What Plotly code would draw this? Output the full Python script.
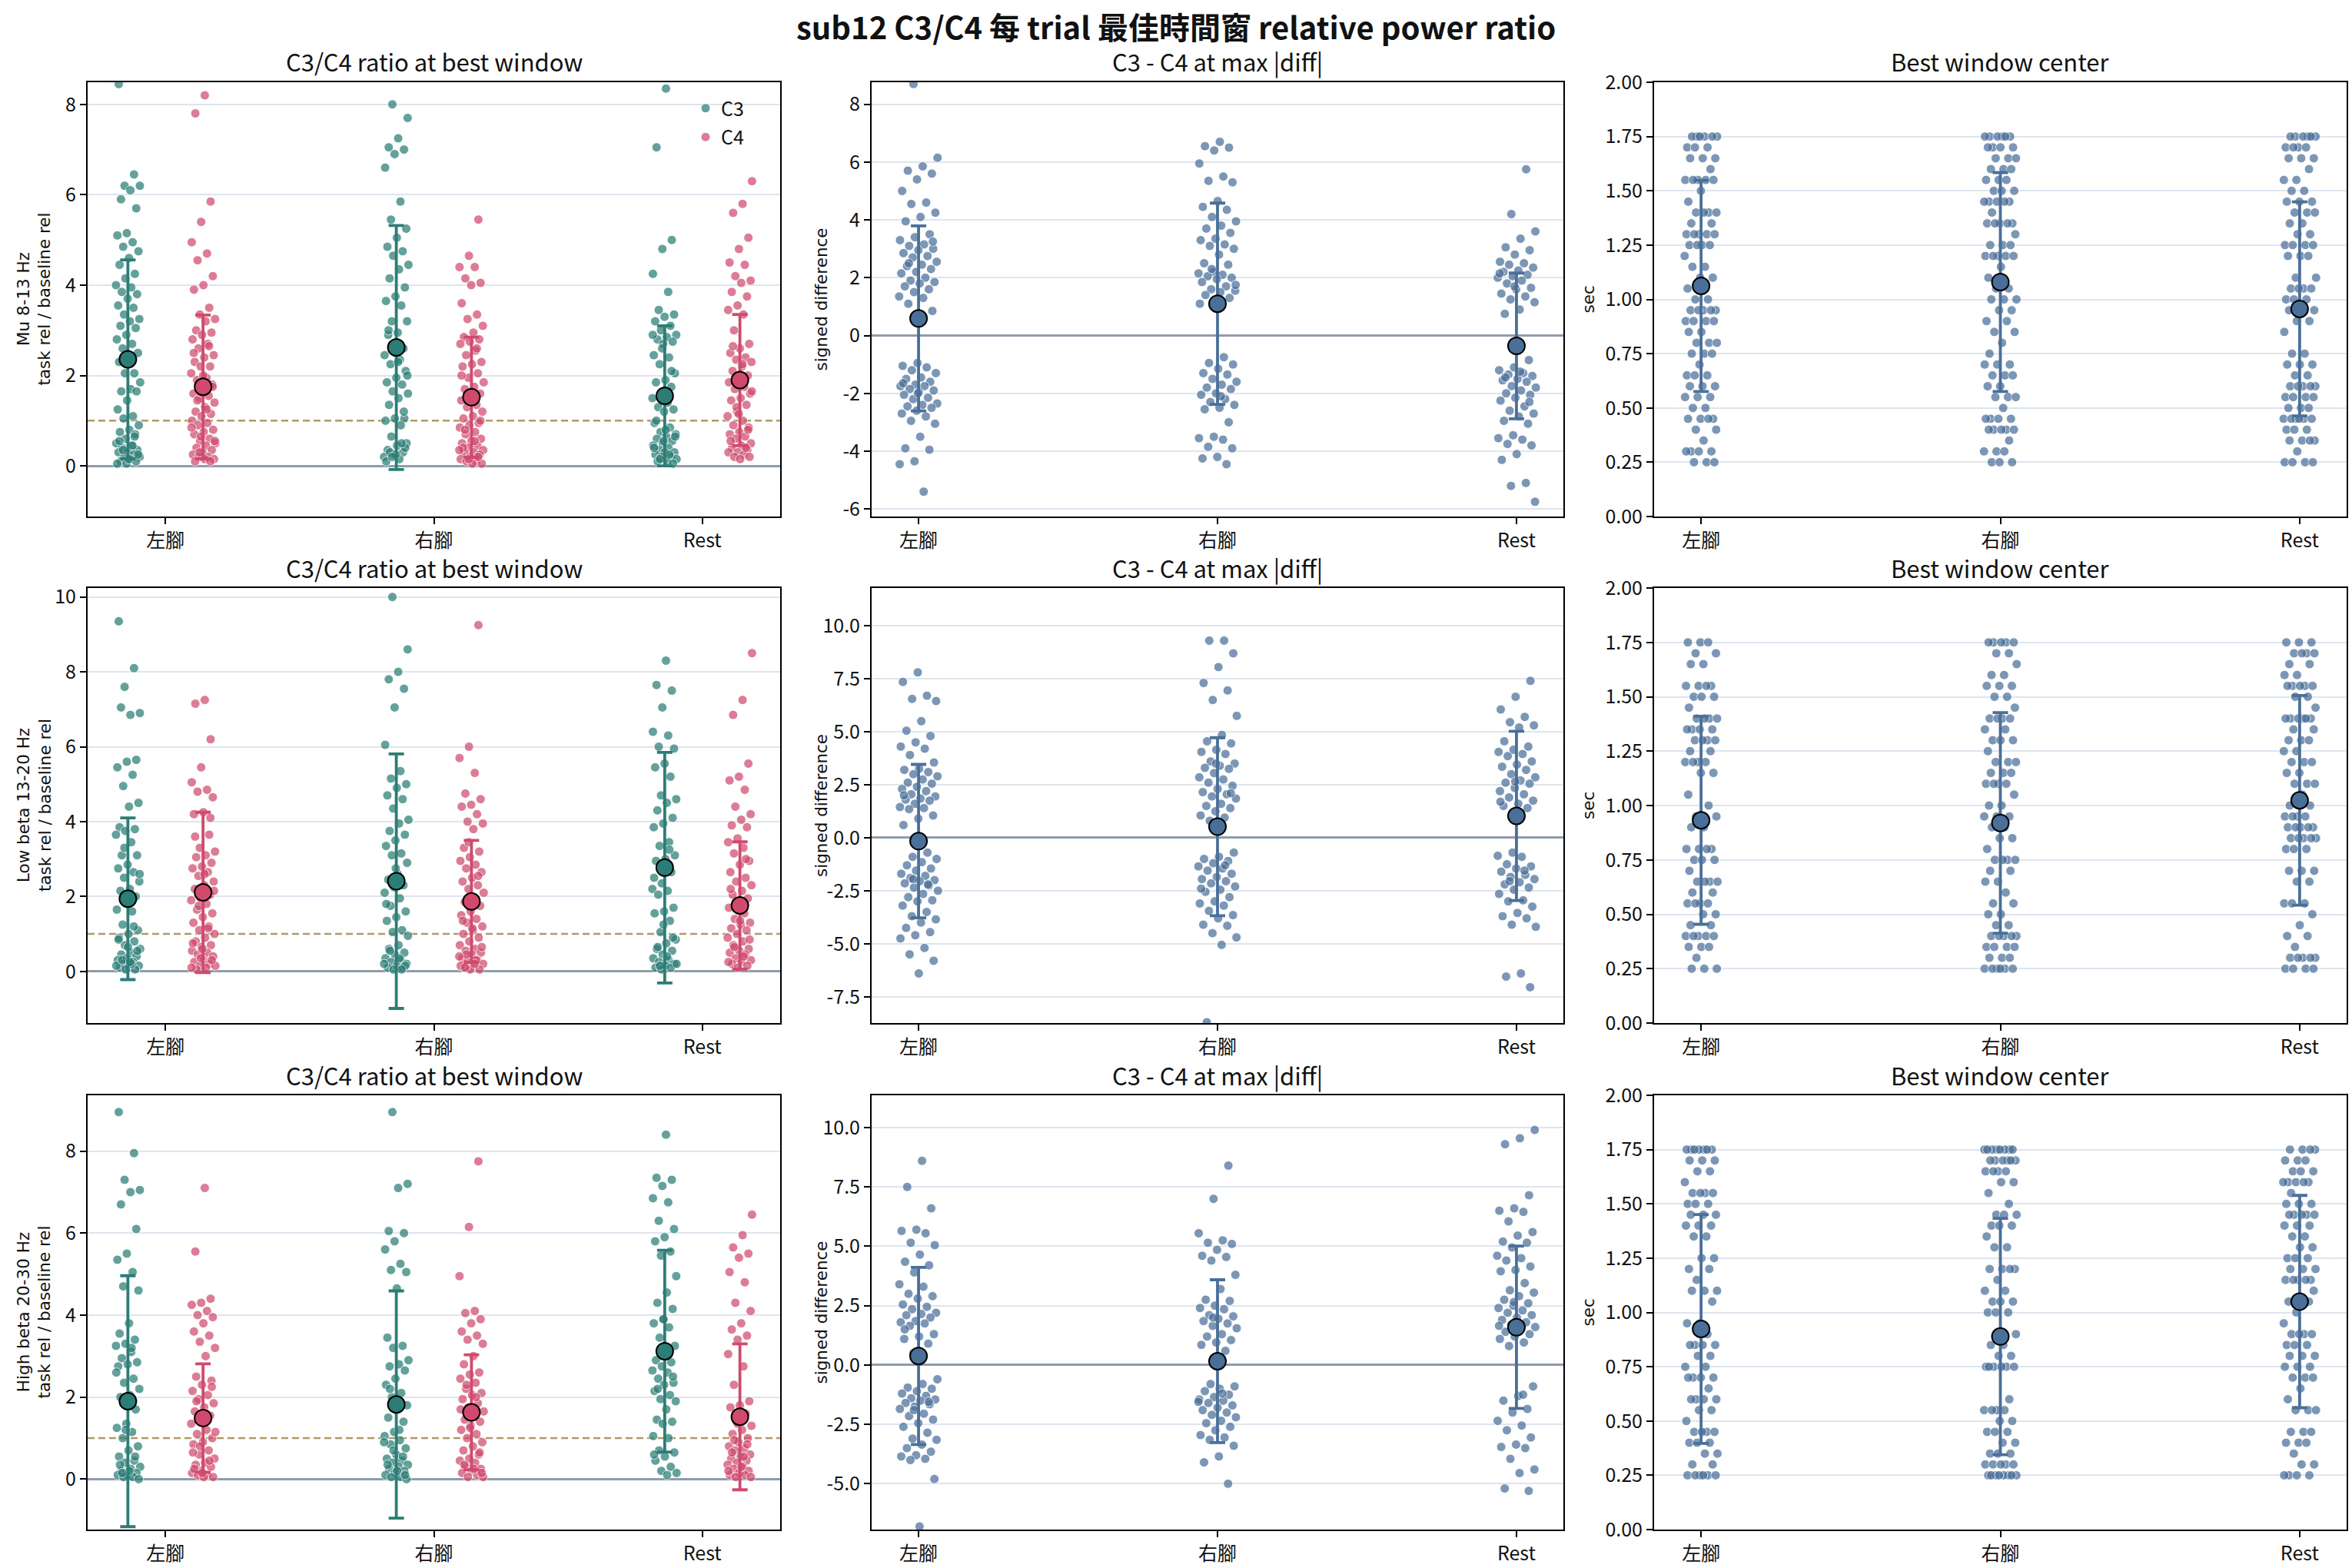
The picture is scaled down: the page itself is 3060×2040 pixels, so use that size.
import plotly.graph_objects as go

# ---------------- data ----------------
conditions = ["左腳", "右腳", "Rest"]
band_labels = ["Mu 8-13 Hz<br>task rel / baseline rel",
               "Low beta 13-20 Hz<br>task rel / baseline rel",
               "High beta 20-30 Hz<br>task rel / baseline rel"]
panel_titles = ["C3/C4 ratio at best window", "C3 - C4 at max |diff|", "Best window center"]

# ---- Mu 8-13 Hz : ratio per trial ----
mu_c3_left = [8.45, 6.45, 6.2, 6.2, 6.1, 5.9, 5.7, 5.15, 5.1, 4.95, 4.85, 4.75, 4.6, 4.45, 4.25, 4.15, 4.0, 3.95, 3.85, 3.8, 3.7, 3.55, 3.5, 3.35, 3.25, 3.2, 3.1, 3.05, 2.9, 2.8, 2.7, 2.6, 2.5, 2.35, 2.3, 2.05, 2.05, 1.85, 1.7, 1.65, 1.65, 1.45, 1.25, 1.1, 1.05, 0.9, 0.8, 0.75, 0.7, 0.6, 0.5, 0.45, 0.4, 0.35, 0.3, 0.3, 0.25, 0.2, 0.2, 0.15, 0.1, 0.1, 0.05, 0.05, 0.45, 0.35, 0.25, 0.15, 0.55, 0.65]
mu_c4_left = [8.2, 7.8, 5.85, 5.4, 4.95, 4.7, 4.55, 4.2, 4.0, 3.9, 3.5, 3.35, 3.25, 3.2, 3.0, 2.95, 2.9, 2.8, 2.7, 2.6, 2.45, 2.4, 2.3, 2.2, 2.2, 2.05, 1.95, 1.9, 1.8, 1.7, 1.6, 1.55, 1.5, 1.4, 1.3, 1.2, 1.15, 1.1, 1.0, 0.95, 0.9, 0.8, 0.75, 0.7, 0.6, 0.55, 0.5, 0.45, 0.4, 0.35, 0.3, 0.25, 0.2, 0.2, 0.15, 0.15, 0.1, 0.1, 0.65, 0.85, 1.25, 1.45, 1.75, 2.0, 2.5, 2.65, 0.3, 0.55]
mu_c3_right = [8.0, 7.7, 7.25, 7.05, 7.0, 6.9, 6.6, 5.85, 5.45, 5.25, 5.05, 4.85, 4.75, 4.65, 4.45, 4.35, 4.15, 3.95, 3.75, 3.65, 3.55, 3.2, 3.2, 2.95, 2.9, 2.6, 2.55, 2.45, 2.35, 2.25, 2.1, 1.95, 1.85, 1.8, 1.65, 1.6, 1.5, 1.35, 1.05, 1.05, 1.0, 0.9, 0.65, 0.5, 0.45, 0.35, 0.3, 0.25, 0.2, 0.15, 0.3, 0.4, 0.25, 0.1, 0.5, 0.2, 2.0, 2.3, 3.0, 1.2]
mu_c4_right = [5.45, 4.65, 4.4, 4.4, 4.15, 4.05, 4.0, 3.6, 3.35, 3.25, 3.1, 2.95, 2.85, 2.8, 2.75, 2.7, 2.55, 2.45, 2.3, 2.25, 2.2, 2.05, 1.95, 1.85, 1.75, 1.7, 1.6, 1.5, 1.45, 1.35, 1.3, 1.2, 1.1, 1.05, 0.95, 0.9, 0.85, 0.75, 0.7, 0.6, 0.55, 0.5, 0.45, 0.4, 0.35, 0.3, 0.3, 0.25, 0.2, 0.15, 0.1, 0.1, 0.05, 0.05, 0.4, 0.2, 0.15, 0.35, 0.55, 0.8, 1.0, 1.4, 2.0, 2.6]
mu_c3_rest = [8.35, 7.05, 5.0, 4.8, 4.25, 3.85, 3.45, 3.35, 3.3, 3.2, 3.1, 3.0, 2.9, 2.85, 2.8, 2.75, 2.7, 2.45, 2.4, 2.25, 2.05, 1.9, 1.85, 1.75, 1.6, 1.5, 1.4, 1.3, 1.25, 1.2, 0.95, 0.85, 0.75, 0.7, 0.65, 0.6, 0.55, 0.5, 0.45, 0.4, 0.35, 0.3, 0.3, 0.25, 0.2, 0.2, 0.15, 0.1, 0.1, 0.05, 0.55, 0.4, 0.25, 0.15, 0.65, 0.8, 1.0, 2.1, 2.6, 2.9]
mu_c4_rest = [6.3, 5.8, 5.6, 5.05, 4.8, 4.5, 4.45, 4.2, 4.1, 4.05, 3.85, 3.75, 3.55, 3.45, 3.35, 3.0, 2.7, 2.6, 2.5, 2.4, 2.35, 2.3, 2.2, 2.1, 2.0, 1.9, 1.85, 1.75, 1.7, 1.6, 1.5, 1.45, 1.35, 1.2, 1.1, 1.0, 0.9, 0.85, 0.75, 0.7, 0.65, 0.6, 0.5, 0.45, 0.4, 0.35, 0.3, 0.3, 0.25, 0.2, 0.2, 0.15, 0.55, 0.4, 1.3, 1.65, 2.25, 2.65, 0.8, 1.15]
mu_c3_mean = [2.36, 2.62, 1.55]
mu_c3_sd = [2.20, 2.70, 1.55]
mu_c4_mean = [1.75, 1.52, 1.90]
mu_c4_sd = [1.59, 1.33, 1.45]

# ---- Mu 8-13 Hz : signed difference ----
mu_diff_left = [8.7, 6.15, 5.85, 5.7, 5.6, 5.4, 5.0, 4.6, 4.55, 4.25, 4.1, 3.95, 3.5, 3.4, 3.3, 3.15, 3.1, 3.0, 2.95, 2.85, 2.75, 2.7, 2.55, 2.45, 2.4, 2.3, 2.2, 2.15, 2.0, 1.9, 1.85, 1.8, 1.7, 1.6, 1.5, 1.35, 1.3, 1.1, 0.85, -0.95, -1.05, -1.1, -1.2, -1.3, -1.45, -1.5, -1.6, -1.7, -1.75, -1.75, -1.85, -1.9, -1.95, -2.05, -2.15, -2.2, -2.35, -2.4, -2.45, -2.5, -2.6, -2.7, -2.8, -2.95, -3.05, -3.5, -3.9, -3.95, -4.35, -4.45, -5.4, 2.5, 3.25, -2.0, -1.65]
mu_diff_right = [6.7, 6.55, 6.5, 6.4, 5.95, 5.5, 5.35, 5.3, 4.65, 4.45, 4.35, 4.1, 3.95, 3.8, 3.7, 3.55, 3.35, 3.3, 3.15, 3.1, 3.0, 2.8, 2.5, 2.45, 2.2, 2.15, 2.1, 2.05, 2.0, 1.95, 1.85, 1.7, 1.6, 1.55, 1.5, 1.4, 1.3, 1.2, 1.1, -0.75, -0.95, -1.0, -1.15, -1.3, -1.35, -1.5, -1.6, -1.7, -1.8, -1.85, -2.0, -2.05, -2.2, -2.3, -2.4, -2.5, -2.55, -3.0, -3.5, -3.55, -3.6, -3.85, -3.9, -4.2, -4.25, -4.45, 2.3, 1.75, -2.1]
mu_diff_rest = [5.75, 4.2, 3.6, 3.35, 3.05, 2.95, 2.8, 2.55, 2.5, 2.45, 2.35, 2.25, 2.2, 2.1, 2.05, 2.0, 1.9, 1.8, 1.65, 1.6, 1.45, 1.35, 1.25, 1.15, 0.9, 0.75, -0.85, -1.1, -1.2, -1.3, -1.35, -1.4, -1.5, -1.55, -1.6, -1.75, -1.8, -1.9, -2.0, -2.05, -2.15, -2.25, -2.45, -2.6, -2.7, -2.8, -2.95, -3.05, -3.45, -3.55, -3.6, -3.75, -3.8, -4.1, -4.3, -5.1, -5.2, -5.75, -1.25, -1.45, -2.3, 1.7, 2.15]
mu_diff_mean = [0.59, 1.10, -0.36]
mu_diff_sd = [3.20, 3.48, 2.52]

# ---- Mu 8-13 Hz : best window centre (s) ----
mu_win_left = [1.75, 1.75, 1.75, 1.75, 1.75, 1.75, 1.7, 1.7, 1.7, 1.65, 1.65, 1.65, 1.6, 1.55, 1.55, 1.55, 1.55, 1.55, 1.5, 1.45, 1.4, 1.4, 1.4, 1.4, 1.35, 1.35, 1.3, 1.3, 1.3, 1.3, 1.3, 1.25, 1.25, 1.25, 1.25, 1.2, 1.15, 1.15, 1.1, 1.1, 1.05, 1.0, 1.0, 0.95, 0.95, 0.95, 0.95, 0.95, 0.9, 0.9, 0.9, 0.9, 0.85, 0.85, 0.8, 0.8, 0.8, 0.75, 0.75, 0.75, 0.7, 0.65, 0.65, 0.65, 0.6, 0.6, 0.6, 0.55, 0.55, 0.55, 0.5, 0.5, 0.45, 0.45, 0.45, 0.45, 0.4, 0.4, 0.35, 0.3, 0.3, 0.3, 0.3, 0.25, 0.25, 0.25]
mu_win_right = [1.75, 1.75, 1.75, 1.75, 1.75, 1.75, 1.7, 1.7, 1.7, 1.7, 1.65, 1.65, 1.65, 1.6, 1.6, 1.6, 1.55, 1.55, 1.55, 1.5, 1.5, 1.5, 1.45, 1.45, 1.45, 1.45, 1.45, 1.4, 1.35, 1.35, 1.35, 1.35, 1.35, 1.3, 1.25, 1.25, 1.25, 1.2, 1.2, 1.2, 1.2, 1.2, 1.15, 1.1, 1.05, 1.05, 1.0, 1.0, 1.0, 0.95, 0.95, 0.9, 0.9, 0.85, 0.85, 0.8, 0.75, 0.7, 0.7, 0.7, 0.65, 0.65, 0.65, 0.6, 0.6, 0.55, 0.55, 0.55, 0.5, 0.45, 0.45, 0.45, 0.45, 0.4, 0.4, 0.4, 0.4, 0.4, 0.35, 0.3, 0.3, 0.3, 0.25, 0.25, 0.25]
mu_win_rest = [1.75, 1.75, 1.75, 1.75, 1.75, 1.75, 1.7, 1.7, 1.7, 1.7, 1.65, 1.65, 1.65, 1.6, 1.55, 1.55, 1.5, 1.5, 1.45, 1.45, 1.45, 1.4, 1.4, 1.4, 1.35, 1.35, 1.3, 1.3, 1.25, 1.25, 1.25, 1.25, 1.2, 1.2, 1.2, 1.1, 1.1, 1.05, 1.05, 1.05, 1.05, 1.0, 1.0, 1.0, 0.95, 0.95, 0.95, 0.9, 0.9, 0.85, 0.75, 0.75, 0.7, 0.7, 0.7, 0.65, 0.65, 0.6, 0.6, 0.6, 0.6, 0.6, 0.55, 0.55, 0.55, 0.55, 0.5, 0.5, 0.5, 0.45, 0.45, 0.45, 0.45, 0.45, 0.45, 0.4, 0.4, 0.4, 0.35, 0.35, 0.35, 0.35, 0.3, 0.25, 0.25, 0.25, 0.25]
mu_win_mean = [1.062, 1.080, 0.956]
mu_win_sd = [0.486, 0.504, 0.493]

# ---- Low beta 13-20 Hz : ratio ----
lb_c3_left = [9.35, 8.1, 7.6, 6.9, 6.85, 7.05, 5.65, 5.6, 5.45, 5.25, 4.95, 4.5, 4.4, 3.85, 3.8, 3.75, 3.65, 3.45, 3.1, 3.1, 2.85, 2.75, 2.65, 2.5, 2.4, 2.2, 2.15, 2.0, 1.9, 1.65, 1.6, 1.25, 1.1, 1.0, 0.9, 0.8, 0.7, 0.6, 0.5, 0.45, 0.4, 0.35, 0.3, 0.25, 0.2, 0.15, 0.1, 0.1, 0.05, 0.05, 0.15, 0.2, 0.3, 0.55, 0.65, 0.85, 1.2, 3.3, 2.6, 0.25]
lb_c4_left = [7.25, 7.15, 6.2, 5.45, 5.05, 4.85, 4.8, 4.65, 4.25, 4.2, 3.65, 3.3, 3.2, 3.1, 3.05, 2.9, 2.8, 2.75, 2.65, 2.55, 2.4, 2.3, 2.2, 2.05, 1.95, 1.9, 1.8, 1.65, 1.55, 1.45, 1.3, 1.2, 1.1, 1.0, 0.9, 0.8, 0.7, 0.65, 0.55, 0.5, 0.45, 0.4, 0.3, 0.25, 0.2, 0.15, 0.15, 0.1, 0.05, 0.3, 0.6, 0.75, 1.15, 1.75, 2.15, 2.6, 3.6, 4.1, 0.35, 0.1]
lb_c3_right = [10.0, 8.6, 8.0, 7.8, 7.55, 7.05, 6.05, 5.35, 5.15, 5.0, 4.9, 4.7, 4.6, 4.35, 4.05, 3.95, 3.75, 3.65, 3.5, 3.35, 3.15, 3.1, 2.9, 2.6, 2.45, 2.3, 2.25, 2.1, 1.95, 1.75, 1.6, 1.45, 1.35, 1.1, 1.05, 0.95, 0.7, 0.6, 0.5, 0.45, 0.35, 0.3, 0.25, 0.2, 0.15, 0.1, 0.1, 0.05, 0.2, 0.35, 0.55, 0.15, 2.75, 1.8, 0.05]
lb_c4_right = [9.25, 6.0, 5.7, 5.3, 4.75, 4.6, 4.45, 4.4, 4.2, 4.0, 3.95, 3.8, 3.3, 3.2, 3.05, 2.95, 2.85, 2.75, 2.65, 2.5, 2.4, 2.3, 2.2, 2.1, 1.95, 1.85, 1.75, 1.6, 1.5, 1.4, 1.3, 1.2, 1.1, 1.0, 0.9, 0.8, 0.7, 0.6, 0.55, 0.5, 0.45, 0.35, 0.3, 0.25, 0.2, 0.15, 0.1, 0.05, 0.05, 0.15, 0.3, 0.45, 0.65, 1.15, 1.35, 2.55, 3.45, 0.4, 0.2, 0.1]
lb_c3_rest = [8.3, 7.65, 7.5, 7.05, 6.4, 6.3, 6.0, 5.95, 5.55, 5.45, 5.2, 4.7, 4.6, 4.5, 4.3, 4.1, 3.95, 3.85, 3.45, 3.35, 3.1, 3.0, 2.95, 2.65, 2.35, 2.2, 2.15, 2.05, 1.7, 1.6, 1.55, 1.35, 1.05, 0.85, 0.75, 0.6, 0.55, 0.45, 0.35, 0.3, 0.25, 0.2, 0.15, 0.1, 0.1, 0.05, 0.2, 0.4, 0.65, 0.9, 1.25, 2.5, 3.25, 0.15]
lb_c4_rest = [8.5, 7.25, 6.85, 5.55, 5.2, 5.1, 4.85, 4.4, 4.2, 4.05, 3.9, 3.85, 3.55, 3.45, 3.3, 3.15, 2.95, 2.85, 2.65, 2.5, 2.4, 2.3, 2.15, 2.05, 1.95, 1.85, 1.7, 1.55, 1.4, 1.3, 1.25, 1.15, 1.1, 1.0, 0.9, 0.8, 0.7, 0.6, 0.55, 0.5, 0.45, 0.35, 0.3, 0.25, 0.2, 0.15, 0.1, 0.25, 0.4, 0.65, 0.85, 1.35, 2.2, 3.0]
lb_c3_mean = [1.94, 2.41, 2.77]
lb_c3_sd = [2.16, 3.40, 3.08]
lb_c4_mean = [2.11, 1.87, 1.76]
lb_c4_sd = [2.14, 1.63, 1.70]

# ---- Low beta 13-20 Hz : signed difference ----
lb_diff_left = [7.8, 7.35, 6.7, 6.55, 6.45, 5.5, 5.05, 4.8, 4.5, 4.3, 4.2, 3.9, 3.55, 3.25, 3.2, 3.1, 3.0, 2.9, 2.75, 2.6, 2.55, 2.4, 2.3, 2.2, 2.05, 1.95, 1.85, 1.8, 1.75, 1.6, 1.45, 1.4, 1.35, 1.05, 0.9, 0.6, -0.7, -0.9, -1.0, -1.15, -1.3, -1.45, -1.55, -1.7, -1.8, -1.9, -2.0, -2.05, -2.15, -2.25, -2.35, -2.5, -2.65, -2.8, -2.95, -3.0, -3.2, -3.5, -3.7, -3.85, -4.0, -4.25, -4.45, -4.6, -4.75, -5.2, -5.5, -5.8, -6.4, 2.0, -2.2, -1.95]
lb_diff_right = [9.3, 9.3, 8.7, 8.05, 7.3, 6.95, 6.5, 5.75, 4.85, 4.55, 4.45, 4.15, 4.05, 3.95, 3.6, 3.5, 3.4, 3.3, 3.25, 3.05, 2.85, 2.75, 2.6, 2.45, 2.3, 2.15, 2.05, 1.95, 1.85, 1.6, 1.5, 1.4, 1.25, 1.05, 0.95, 0.8, -0.7, -0.9, -1.0, -1.1, -1.2, -1.35, -1.45, -1.55, -1.7, -1.85, -1.95, -2.05, -2.15, -2.3, -2.45, -2.55, -2.8, -3.0, -3.1, -3.2, -3.45, -3.65, -3.8, -4.1, -4.15, -4.5, -4.7, -5.05, -8.7, 2.1, 3.5, -2.4, -1.3]
lb_diff_rest = [7.4, 6.65, 6.05, 5.7, 5.45, 5.3, 5.2, 4.55, 4.3, 4.15, 4.05, 3.95, 3.85, 3.6, 3.45, 3.35, 3.2, 3.0, 2.85, 2.7, 2.6, 2.55, 2.35, 2.2, 2.05, 1.9, 1.75, 1.6, 1.5, 1.4, -0.7, -0.85, -0.9, -1.25, -1.35, -1.45, -1.6, -1.75, -1.85, -1.95, -2.1, -2.2, -2.35, -2.45, -2.65, -2.95, -3.0, -3.25, -3.55, -3.7, -3.8, -4.1, -4.2, -6.4, -6.55, -7.05, 2.65, 1.7, -1.55, -2.05]
lb_diff_mean = [-0.16, 0.52, 1.03]
lb_diff_sd = [3.62, 4.20, 3.99]

# ---- Low beta 13-20 Hz : best window centre (s) ----
lb_win_left = [1.75, 1.75, 1.75, 1.7, 1.7, 1.65, 1.65, 1.55, 1.55, 1.55, 1.55, 1.5, 1.5, 1.5, 1.45, 1.4, 1.4, 1.4, 1.4, 1.35, 1.35, 1.35, 1.35, 1.3, 1.3, 1.3, 1.3, 1.25, 1.25, 1.2, 1.2, 1.2, 1.2, 1.15, 1.15, 1.05, 1.0, 0.95, 0.95, 0.9, 0.9, 0.8, 0.8, 0.8, 0.8, 0.75, 0.75, 0.75, 0.7, 0.65, 0.65, 0.65, 0.65, 0.6, 0.6, 0.55, 0.55, 0.55, 0.55, 0.5, 0.5, 0.45, 0.45, 0.4, 0.4, 0.4, 0.4, 0.4, 0.35, 0.35, 0.35, 0.3, 0.25, 0.25, 0.25]
lb_win_right = [1.75, 1.75, 1.75, 1.75, 1.75, 1.7, 1.7, 1.65, 1.6, 1.6, 1.55, 1.55, 1.55, 1.5, 1.5, 1.45, 1.4, 1.4, 1.4, 1.4, 1.35, 1.35, 1.3, 1.3, 1.3, 1.25, 1.2, 1.2, 1.2, 1.15, 1.15, 1.15, 1.1, 1.1, 1.1, 1.1, 1.05, 1.0, 1.0, 0.95, 0.95, 0.95, 0.9, 0.9, 0.85, 0.85, 0.8, 0.75, 0.75, 0.75, 0.75, 0.7, 0.7, 0.65, 0.65, 0.6, 0.55, 0.55, 0.5, 0.5, 0.45, 0.45, 0.4, 0.4, 0.4, 0.4, 0.4, 0.35, 0.35, 0.35, 0.35, 0.3, 0.3, 0.3, 0.25, 0.25, 0.25, 0.25, 0.25, 0.25]
lb_win_rest = [1.75, 1.75, 1.75, 1.7, 1.7, 1.7, 1.7, 1.65, 1.65, 1.6, 1.6, 1.55, 1.55, 1.55, 1.55, 1.55, 1.5, 1.5, 1.45, 1.4, 1.4, 1.4, 1.4, 1.4, 1.4, 1.35, 1.35, 1.3, 1.3, 1.3, 1.25, 1.25, 1.2, 1.2, 1.2, 1.15, 1.15, 1.1, 1.1, 1.1, 1.05, 1.0, 1.0, 0.95, 0.95, 0.95, 0.95, 0.9, 0.9, 0.9, 0.9, 0.9, 0.85, 0.85, 0.85, 0.85, 0.85, 0.8, 0.8, 0.8, 0.7, 0.7, 0.7, 0.65, 0.65, 0.55, 0.55, 0.55, 0.5, 0.45, 0.4, 0.4, 0.35, 0.3, 0.3, 0.3, 0.3, 0.3, 0.25, 0.25, 0.25, 0.25]
lb_win_mean = [0.932, 0.920, 1.024]
lb_win_sd = [0.478, 0.507, 0.482]

# ---- High beta 20-30 Hz : ratio ----
hb_c3_left = [8.95, 7.95, 7.3, 7.05, 7.0, 6.7, 6.1, 5.5, 5.35, 5.05, 4.7, 4.6, 3.8, 3.55, 3.4, 3.3, 3.25, 3.1, 2.95, 2.85, 2.8, 2.75, 2.45, 2.35, 2.2, 2.05, 2.0, 1.7, 1.35, 1.25, 1.15, 1.0, 0.8, 0.7, 0.55, 0.45, 0.4, 0.3, 0.25, 0.2, 0.15, 0.1, 0.1, 0.05, 0.05, 0.0, 0.2, 0.35, 0.55, 1.2, 2.6, 3.2, 0.15]
hb_c4_left = [7.1, 5.55, 4.4, 4.3, 4.25, 4.1, 4.0, 3.95, 3.8, 3.6, 3.5, 3.35, 3.2, 3.0, 2.5, 2.4, 2.3, 2.15, 2.05, 1.95, 1.85, 1.75, 1.65, 1.55, 1.45, 1.35, 1.2, 1.1, 1.0, 0.9, 0.85, 0.7, 0.6, 0.5, 0.4, 0.35, 0.3, 0.2, 0.15, 0.1, 0.1, 0.05, 0.05, 0.25, 0.45, 0.8, 1.15, 1.6, 1.9, 2.25, 0.15, 0.65]
hb_c3_right = [8.95, 7.2, 7.1, 6.05, 6.0, 5.8, 5.6, 5.25, 5.1, 5.05, 4.65, 3.45, 3.25, 3.2, 2.9, 2.8, 2.75, 2.65, 2.45, 2.3, 2.1, 2.0, 1.8, 1.75, 1.5, 1.4, 1.15, 1.05, 0.95, 0.85, 0.75, 0.6, 0.5, 0.45, 0.4, 0.35, 0.3, 0.25, 0.2, 0.15, 0.1, 0.05, 0.05, 0.0, 0.2, 0.35, 0.55, 0.7, 0.9, 1.2, 2.2, 0.1]
hb_c4_right = [7.75, 6.15, 4.95, 4.1, 4.05, 3.9, 3.8, 3.6, 3.5, 3.4, 3.3, 3.0, 2.8, 2.6, 2.55, 2.45, 2.35, 2.2, 2.1, 2.05, 1.95, 1.85, 1.75, 1.65, 1.55, 1.45, 1.4, 1.3, 1.2, 1.1, 1.0, 0.9, 0.8, 0.7, 0.6, 0.5, 0.45, 0.4, 0.3, 0.25, 0.2, 0.15, 0.1, 0.05, 0.05, 0.25, 0.35, 0.65, 1.25, 1.7, 2.0, 2.3, 0.15]
hb_c3_rest = [8.4, 7.35, 7.3, 7.15, 6.85, 6.75, 6.3, 6.1, 5.9, 5.8, 5.55, 5.45, 4.95, 4.55, 4.3, 4.15, 3.9, 3.8, 3.7, 3.45, 3.25, 3.0, 2.9, 2.85, 2.75, 2.65, 2.6, 2.45, 2.35, 2.3, 2.15, 2.05, 1.95, 1.9, 1.7, 1.45, 1.4, 1.35, 1.05, 1.0, 0.7, 0.65, 0.55, 0.45, 0.3, 0.2, 0.15, 0.1, 2.2, 2.5, 3.9, 0.6]
hb_c4_rest = [6.45, 5.95, 5.65, 5.5, 5.4, 5.05, 4.8, 4.3, 4.1, 3.8, 3.65, 3.5, 3.4, 3.05, 2.75, 2.3, 1.9, 1.8, 1.75, 1.6, 1.4, 1.3, 1.2, 1.1, 1.0, 0.9, 0.8, 0.75, 0.7, 0.6, 0.55, 0.5, 0.45, 0.4, 0.35, 0.3, 0.25, 0.2, 0.15, 0.1, 0.1, 0.05, 0.05, 0.3, 0.65, 0.85, 1.35, 0.2, 0.55, 0.95]
hb_c3_mean = [1.90, 1.82, 3.12]
hb_c3_sd = [3.06, 2.77, 2.46]
hb_c4_mean = [1.49, 1.63, 1.52]
hb_c4_sd = [1.32, 1.40, 1.78]

# ---- High beta 20-30 Hz : signed difference ----
hb_diff_left = [8.6, 7.5, 6.6, 5.7, 5.65, 5.55, 5.15, 5.05, 4.65, 4.35, 4.2, 3.9, 3.4, 3.3, 3.0, 2.9, 2.8, 2.55, 2.45, 2.35, 2.2, 2.15, 2.1, 2.0, 1.85, 1.8, 1.75, 1.65, 1.3, 1.2, 1.1, 0.9, 0.5, -0.6, -0.8, -0.95, -1.0, -1.1, -1.2, -1.3, -1.4, -1.45, -1.5, -1.6, -1.65, -1.75, -1.85, -2.05, -2.15, -2.3, -2.45, -2.6, -2.85, -3.1, -3.15, -3.35, -3.5, -3.65, -3.8, -3.85, -3.95, -4.0, -4.8, -6.8, 1.5, -1.55, -1.9]
hb_diff_right = [8.4, 7.0, 5.55, 5.25, 5.15, 5.1, 4.85, 4.6, 4.55, 4.4, 3.8, 3.2, 2.75, 2.7, 2.5, 2.4, 2.35, 2.1, 2.05, 1.95, 1.85, 1.75, 1.65, 1.55, 1.3, 1.2, 1.05, 0.95, 0.85, 0.6, -0.8, -0.9, -1.0, -1.1, -1.25, -1.35, -1.45, -1.5, -1.6, -1.7, -1.8, -1.9, -2.0, -2.1, -2.2, -2.35, -2.45, -2.6, -2.75, -2.95, -3.05, -3.15, -3.4, -3.85, -4.1, -5.0, 2.0, -1.55, -1.2]
hb_diff_rest = [9.9, 9.55, 9.3, 7.15, 6.6, 6.5, 6.45, 6.05, 5.6, 5.45, 5.2, 5.15, 4.95, 4.6, 4.5, 4.4, 4.15, 4.0, 3.95, 3.45, 3.15, 3.05, 2.9, 2.75, 2.6, 2.5, 2.4, 2.3, 2.2, 2.1, 2.0, 1.9, 1.8, 1.7, 1.6, 1.5, 1.4, 1.3, 1.2, 1.1, 0.95, 0.8, -0.9, -1.3, -1.5, -1.85, -2.0, -2.35, -2.55, -2.75, -3.05, -3.35, -3.45, -3.5, -3.95, -4.4, -4.55, -5.2, -5.3, 2.65, 1.65, -1.25]
hb_diff_mean = [0.38, 0.16, 1.59]
hb_diff_sd = [3.73, 3.43, 3.42]

# ---- High beta 20-30 Hz : best window centre (s) ----
hb_win_left = [1.75, 1.75, 1.75, 1.75, 1.75, 1.75, 1.75, 1.7, 1.7, 1.7, 1.65, 1.65, 1.6, 1.55, 1.55, 1.55, 1.55, 1.5, 1.5, 1.5, 1.45, 1.45, 1.45, 1.4, 1.4, 1.4, 1.35, 1.35, 1.25, 1.25, 1.2, 1.2, 1.15, 1.1, 1.1, 1.1, 1.05, 0.95, 0.95, 0.9, 0.85, 0.85, 0.85, 0.85, 0.8, 0.8, 0.75, 0.75, 0.7, 0.7, 0.7, 0.7, 0.65, 0.6, 0.6, 0.6, 0.6, 0.55, 0.55, 0.5, 0.45, 0.45, 0.45, 0.45, 0.4, 0.4, 0.4, 0.35, 0.35, 0.3, 0.3, 0.25, 0.25, 0.25, 0.25, 0.25, 0.25]
hb_win_right = [1.75, 1.75, 1.75, 1.75, 1.75, 1.75, 1.75, 1.75, 1.7, 1.7, 1.7, 1.7, 1.7, 1.7, 1.65, 1.65, 1.65, 1.65, 1.6, 1.6, 1.55, 1.5, 1.45, 1.45, 1.45, 1.4, 1.4, 1.4, 1.35, 1.3, 1.3, 1.2, 1.2, 1.2, 1.2, 1.15, 1.1, 1.1, 1.05, 1.05, 1.05, 1.0, 1.0, 1.0, 0.9, 0.85, 0.85, 0.8, 0.8, 0.75, 0.75, 0.75, 0.75, 0.75, 0.75, 0.6, 0.55, 0.55, 0.55, 0.55, 0.5, 0.5, 0.45, 0.45, 0.45, 0.4, 0.4, 0.35, 0.35, 0.35, 0.3, 0.3, 0.3, 0.3, 0.3, 0.25, 0.25, 0.25, 0.25, 0.25, 0.25, 0.25, 0.25]
hb_win_rest = [1.75, 1.75, 1.75, 1.75, 1.7, 1.7, 1.7, 1.65, 1.65, 1.65, 1.6, 1.6, 1.6, 1.6, 1.6, 1.55, 1.5, 1.5, 1.5, 1.45, 1.45, 1.45, 1.45, 1.45, 1.4, 1.4, 1.4, 1.35, 1.35, 1.3, 1.3, 1.25, 1.25, 1.25, 1.2, 1.2, 1.2, 1.15, 1.15, 1.15, 1.15, 1.15, 1.1, 1.05, 1.05, 1.05, 1.0, 0.95, 0.9, 0.9, 0.9, 0.9, 0.85, 0.85, 0.85, 0.8, 0.8, 0.8, 0.75, 0.75, 0.75, 0.7, 0.7, 0.7, 0.65, 0.6, 0.55, 0.55, 0.55, 0.45, 0.45, 0.45, 0.4, 0.4, 0.4, 0.35, 0.3, 0.3, 0.25, 0.25, 0.25, 0.25]
hb_win_mean = [0.924, 0.889, 1.050]
hb_win_sd = [0.527, 0.544, 0.489]

# ---------------- style / layout ----------------
W, H = 3060, 2040
COL_PX = [(114, 1015), (1134, 2034), (2152, 3053)]
ROW_PX = [(107, 672), (765, 1331), (1425, 1990)]
C3_COL = "#2b7d76"
C4_COL = "#cf4a6d"
BLUE = "#4a6f99"
GRID = "#dfe5ee"
ZERO = "#8f9cad"
REF = "#b09a6a"
FONT = "Noto Sans CJK TC"

ratio_sets = [
    ([mu_c3_left, mu_c3_right, mu_c3_rest], [mu_c4_left, mu_c4_right, mu_c4_rest],
     mu_c3_mean, mu_c3_sd, mu_c4_mean, mu_c4_sd),
    ([lb_c3_left, lb_c3_right, lb_c3_rest], [lb_c4_left, lb_c4_right, lb_c4_rest],
     lb_c3_mean, lb_c3_sd, lb_c4_mean, lb_c4_sd),
    ([hb_c3_left, hb_c3_right, hb_c3_rest], [hb_c4_left, hb_c4_right, hb_c4_rest],
     hb_c3_mean, hb_c3_sd, hb_c4_mean, hb_c4_sd),
]
diff_sets = [
    ([mu_diff_left, mu_diff_right, mu_diff_rest], mu_diff_mean, mu_diff_sd),
    ([lb_diff_left, lb_diff_right, lb_diff_rest], lb_diff_mean, lb_diff_sd),
    ([hb_diff_left, hb_diff_right, hb_diff_rest], hb_diff_mean, hb_diff_sd),
]
win_sets = [
    ([mu_win_left, mu_win_right, mu_win_rest], mu_win_mean, mu_win_sd),
    ([lb_win_left, lb_win_right, lb_win_rest], lb_win_mean, lb_win_sd),
    ([hb_win_left, hb_win_right, hb_win_rest], hb_win_mean, hb_win_sd),
]

ratio_ranges = [(-1.12, 8.49), (-1.38, 10.24), (-1.23, 9.36)]
ratio_ticks = [[0, 2, 4, 6, 8], [0, 2, 4, 6, 8, 10], [0, 2, 4, 6, 8]]
diff_ranges = [(-6.26, 8.76), (-8.74, 11.78), (-6.93, 11.36)]
diff_ticks = [[-6, -4, -2, 0, 2, 4, 6, 8],
              [-7.5, -5.0, -2.5, 0.0, 2.5, 5.0, 7.5, 10.0],
              [-5.0, -2.5, 0.0, 2.5, 5.0, 7.5, 10.0]]
diff_fmt = ["{:.0f}", "{:.1f}", "{:.1f}"]
win_ticks = [0.0, 0.25, 0.5, 0.75, 1.0, 1.25, 1.5, 1.75, 2.0]


def jitter(n, half, phase):
    return [(((k * 0.6180339887 + phase) % 1.0) * 2 - 1) * half for k in range(n)]


def fmt(v, f):
    return f.format(v).replace("\u2212", "-")


fig = go.Figure()


def ids(r, c):
    k = r * 3 + c + 1
    s = "" if k == 1 else str(k)
    return "x" + s, "y" + s, "xaxis" + s, "yaxis" + s


annotations = []
shapes = []
layout_axes = {}

for r in range(3):
    for c in range(3):
        xid, yid, xname, yname = ids(r, c)
        x0, x1 = COL_PX[c]
        y0, y1 = ROW_PX[r]
        if c == 0:
            xr = [-0.29, 2.29]
        else:
            xr = [-0.157, 2.157]
        layout_axes[xname] = dict(
            domain=[x0 / W, x1 / W], anchor=yid, range=xr, automargin=False,
            tickvals=[0, 1, 2], ticktext=conditions,
            showgrid=False, zeroline=False, showline=True, linecolor="black",
            linewidth=2, mirror=True, ticks="outside", ticklen=8, tickwidth=1.6,
            tickcolor="black", tickfont=dict(family=FONT, size=25, color="#111"),
        )
        if c == 0:
            yr = ratio_ranges[r]
            tv = ratio_ticks[r]
            tt = [str(v) for v in tv]
        elif c == 1:
            yr = diff_ranges[r]
            tv = diff_ticks[r]
            tt = [fmt(v, diff_fmt[r]) for v in tv]
        else:
            yr = (0, 2)
            tv = win_ticks
            tt = ["{:.2f}".format(v) for v in tv]
        layout_axes[yname] = dict(
            domain=[1 - y1 / H, 1 - y0 / H], anchor=xid, range=list(yr), automargin=False,
            tickvals=tv, ticktext=tt,
            showgrid=True, gridcolor=GRID, gridwidth=2,
            zeroline=(c != 2), zerolinecolor=ZERO, zerolinewidth=2.5,
            showline=True, linecolor="black", linewidth=2, mirror=True,
            ticks="outside", ticklen=8, tickwidth=1.6, tickcolor="black",
            tickfont=dict(family=FONT, size=25, color="#111"),
        )
        # panel title
        annotations.append(dict(
            text=panel_titles[c], x=(x0 + x1) / 2 / W, y=1 - (y0 - 27) / H,
            xref="paper", yref="paper", xanchor="center", yanchor="middle",
            showarrow=False, font=dict(family=FONT, size=31, color="#111")))

        if c == 0:
            c3_sets, c4_sets, m3, s3, m4, s4 = ratio_sets[r]
            shapes.append(dict(type="line", xref=xid + " domain", yref=yid,
                               x0=0, x1=1, y0=1, y1=1, layer="below",
                               line=dict(color=REF, width=2.5, dash="9px,5px")))
            for i in range(3):
                for vals, off, col, name, ph in ((c3_sets[i], -0.14, C3_COL, "C3", 0.13),
                                                  (c4_sets[i], 0.14, C4_COL, "C4", 0.57)):
                    jx = jitter(len(vals), 0.046, ph + 0.21 * i)
                    fig.add_trace(go.Scatter(
                        x=[i + off + j for j in jx], y=vals, mode="markers",
                        xaxis=xid, yaxis=yid, name=name, legendgroup=name,
                        showlegend=(r == 0 and i == 0),
                        marker=dict(size=12, color=col, opacity=0.72,
                                    line=dict(color="white", width=1)),
                        hoverinfo="skip"))
            for off, col, mm, ss in ((-0.14, C3_COL, m3, s3), (0.14, C4_COL, m4, s4)):
                fig.add_trace(go.Scatter(
                    x=[k + off for k in range(3)], y=mm, mode="markers",
                    xaxis=xid, yaxis=yid, showlegend=False,
                    error_y=dict(type="data", array=ss, visible=True, color=col,
                                 thickness=3.8, width=10),
                    marker=dict(size=22, color=col, line=dict(color="black", width=2))))
        else:
            if c == 1:
                groups, mm, ss = diff_sets[r]
                half = 0.065
            else:
                groups, mm, ss = win_sets[r]
                half = 0.055
            for i in range(3):
                vals = groups[i]
                jx = jitter(len(vals), half, 0.37 + 0.19 * i + 0.11 * r)
                fig.add_trace(go.Scatter(
                    x=[i + j for j in jx], y=vals, mode="markers",
                    xaxis=xid, yaxis=yid, showlegend=False,
                    marker=dict(size=12, color=BLUE, opacity=0.72,
                                line=dict(color="white", width=1)),
                    hoverinfo="skip"))
            fig.add_trace(go.Scatter(
                x=[0, 1, 2], y=mm, mode="markers", xaxis=xid, yaxis=yid,
                showlegend=False,
                error_y=dict(type="data", array=ss, visible=True, color=BLUE,
                             thickness=3.8, width=10),
                marker=dict(size=22, color=BLUE, line=dict(color="black", width=2))))

    # y-axis labels
    yc = 1 - (ROW_PX[r][0] + ROW_PX[r][1]) / 2 / H
    annotations.append(dict(text=band_labels[r], x=44 / W, y=yc, xref="paper", yref="paper",
                            xanchor="center", yanchor="middle", textangle=-90, showarrow=False,
                            font=dict(family="DejaVu Sans", size=21.5, color="#111")))
    annotations.append(dict(text="signed difference", x=1068 / W, y=yc, xref="paper", yref="paper",
                            xanchor="center", yanchor="middle", textangle=-90, showarrow=False,
                            font=dict(family="DejaVu Sans", size=21.5, color="#111")))
    annotations.append(dict(text="sec", x=2066 / W, y=yc, xref="paper", yref="paper",
                            xanchor="center", yanchor="middle", textangle=-90, showarrow=False,
                            font=dict(family="DejaVu Sans", size=21.5, color="#111")))

annotations.append(dict(text="<b>sub12 C3/C4 每 trial 最佳時間窗 relative power ratio</b>",
                        x=0.5, y=1 - 34 / H, xref="paper", yref="paper",
                        xanchor="center", yanchor="middle", showarrow=False,
                        font=dict(family=FONT, size=40, color="#111")))

fig.update_layout(
    width=W, height=H, margin=dict(l=0, r=0, t=0, b=0, autoexpand=False),
    paper_bgcolor="white", plot_bgcolor="white",
    annotations=annotations, shapes=shapes,
    legend=dict(x=898 / W, y=1 - 118 / H, xanchor="left", yanchor="top",
                bgcolor="rgba(0,0,0,0)", borderwidth=0,
                font=dict(family=FONT, size=25, color="#111"),
                itemwidth=30, tracegroupgap=2),
    **layout_axes,
)

fig.write_html("out.html")
